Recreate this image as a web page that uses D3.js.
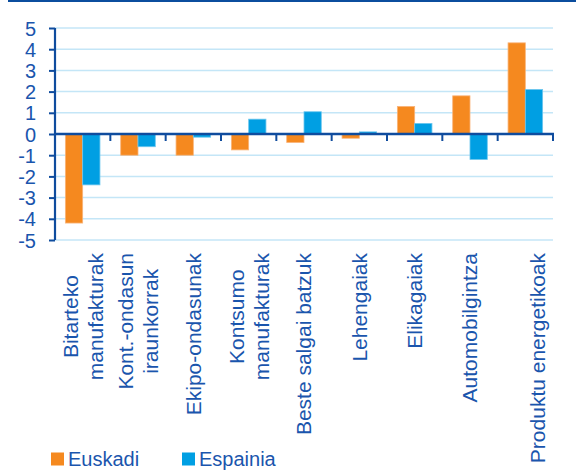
<!DOCTYPE html>
<html>
<head>
<meta charset="utf-8">
<script src="https://cdn.jsdelivr.net/npm/d3@7"></script>
<style>
  html, body { margin: 0; padding: 0; background: #ffffff; }
  svg { display: block; }
  text { font-family: "Liberation Sans", Arial, sans-serif; fill: #1a55ad; }
</style>
</head>
<body>
<svg id="chart" width="576" height="471"></svg>
<script>
// ---- data ----
const categories = ["Bitarteko manufakturak", "Kont.-ondasun iraunkorrak", "Ekipo-ondasunak",
  "Kontsumo manufakturak", "Beste salgai batzuk", "Lehengaiak", "Elikagaiak",
  "Automobilgintza", "Produktu energetikoak"];
const categoryLines = [["Bitarteko", "manufakturak"], ["Kont.-ondasun", "iraunkorrak"], ["Ekipo-ondasunak"],
  ["Kontsumo", "manufakturak"], ["Beste salgai batzuk"], ["Lehengaiak"], ["Elikagaiak"],
  ["Automobilgintza"], ["", "Produktu energetikoak"]];
const seriesNames = ["Euskadi", "Espainia"];
const euskadi = [-4.2, -1.0, -1.0, -0.75, -0.4, -0.2, 1.3, 1.8, 4.3];
const espainia = [-2.4, -0.6, -0.15, 0.7, 1.05, 0.1, 0.5, -1.2, 2.1];
const yTicks = [-5, -4, -3, -2, -1, 0, 1, 2, 3, 4, 5];
const colors = ["#f5891f", "#009fe3"];

const series = [euskadi, espainia];
const svg = d3.select("#chart");
const axisColor = "#0f4c9e";

// top rule
svg.append("rect").attr("x", 8).attr("y", 0).attr("width", 568).attr("height", 2).attr("fill", "#0b4d9e");

const x0 = d3.scaleBand().domain(categories).range([55, 553]).padding(0);
const x1 = d3.scaleBand().domain(seriesNames).range([0, x0.bandwidth()]).paddingInner(0).paddingOuter(0.6);
const y = d3.scaleLinear().domain([-5, 5]).range([240, 28]);

// gridlines
svg.append("g").selectAll("line").data(yTicks).join("line")
  .attr("x1", 55).attr("x2", 553)
  .attr("y1", d => y(d)).attr("y2", d => y(d))
  .attr("stroke", "#c4e6f7").attr("stroke-width", 1.5);

// bars
const groups = svg.append("g").selectAll("g").data(categories).join("g")
  .attr("transform", d => `translate(${x0(d)},0)`);
groups.selectAll("rect").data((d, i) => series.map((s, j) => ({ name: seriesNames[j], v: s[i], j })))
  .join("rect")
  .attr("x", d => x1(d.name))
  .attr("width", x1.bandwidth())
  .attr("y", d => Math.min(y(0), y(d.v)))
  .attr("height", d => Math.abs(y(d.v) - y(0)))
  .attr("fill", d => colors[d.j])
  .attr("stroke", d => d.j === 0 ? "#f9b47a" : "#6cc6ee")
  .attr("stroke-width", 0.8);

// y axis
const yAxis = d3.axisLeft(y).tickValues(yTicks).tickSize(6).tickFormat(d => String(d));
const gy = svg.append("g").attr("transform", "translate(55,0)").call(yAxis);
gy.select(".domain").attr("stroke", axisColor).attr("stroke-width", 2.2).attr("d", `M0,${y(5)}V${y(-5)}`);
gy.selectAll(".tick line").attr("stroke", axisColor).attr("stroke-width", 2);
gy.selectAll(".tick text").attr("x", -19).attr("dy", "0.35em")
  .style("font-size", "20px").attr("fill", "#1a55ad")
  .style("font-family", '"Liberation Sans", Arial, sans-serif');

// zero axis with category separators
const xAxis = d3.axisBottom(x0).tickSize(0).tickFormat("");
const gx = svg.append("g").attr("transform", `translate(0,${y(0)})`).call(xAxis);
gx.select(".domain").attr("stroke", axisColor).attr("stroke-width", 2.5).attr("d", "M55,0H554");
const boundaries = categories.map(c => x0(c) + x0.bandwidth());
gx.append("g").selectAll("line").data(boundaries).join("line")
  .attr("x1", d => d).attr("x2", d => d).attr("y1", 0).attr("y2", 7)
  .attr("stroke", axisColor).attr("stroke-width", 2);

// category labels (rotated)
const labelTop = 253;
const lineGap = 25;
const lg = svg.append("g");
categories.forEach((c, i) => {
  const lines = categoryLines[i];
  const cx = x0(c) + x0.bandwidth() / 2;
  const g = lg.append("g");
  const texts = lines.map((t, k) => g.append("text").text(t)
    .style("font-size", "21px").attr("text-anchor", "middle").attr("dy", "0.35em"));
  const maxLen = d3.max(texts, t => t.node().getComputedTextLength());
  texts.forEach((t, k) => {
    const off = (k - (lines.length - 1) / 2) * lineGap;
    t.attr("transform", `translate(${cx + off},${labelTop + maxLen / 2}) rotate(-90)`);
  });
});

// legend
const legendX = [51, 182];
seriesNames.forEach((n, j) => {
  svg.append("rect").attr("x", legendX[j]).attr("y", 452.5).attr("width", 13).attr("height", 13).attr("fill", colors[j]);
  svg.append("text").attr("x", legendX[j] + 17).attr("y", 466).text(n).style("font-size", "20px");
});
</script>
</body>
</html>
